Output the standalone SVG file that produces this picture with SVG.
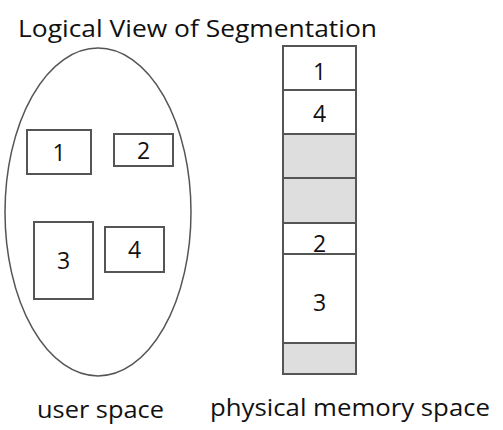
<svg xmlns="http://www.w3.org/2000/svg" width="503" height="430" viewBox="0 0 503 430">
<style>
text{font-family:"Open Sans","Liberation Sans",sans-serif;fill:#111}
.t{font-size:24px}
.l{font-size:24px}
.n{font-size:23px;text-anchor:middle}
.b{fill:#fff;stroke:#555;stroke-width:2}
.g{fill:#dedede;stroke:#555;stroke-width:2}
</style>
<rect width="503" height="430" fill="#fff"/>
<text class="t" x="18" y="37" textLength="359" lengthAdjust="spacingAndGlyphs">Logical View of Segmentation</text>
<g id="userspace">
<ellipse cx="98" cy="212" rx="93" ry="164" fill="#fff" stroke="#555" stroke-width="1.5"/>
</g>
<g id="seg1"><rect class="b" x="27" y="130" width="64" height="44"/><text class="n" x="59" y="161">1</text></g>
<g id="seg2"><rect class="b" x="114" y="134" width="59" height="32"/><text class="n" x="143.5" y="159">2</text></g>
<g id="seg3"><rect class="b" x="34" y="222" width="59" height="77"/><text class="n" x="63.5" y="269">3</text></g>
<g id="seg4"><rect class="b" x="105" y="227" width="59" height="45"/><text class="n" x="134.5" y="258">4</text></g>
<g id="memory">
<rect class="b" x="283" y="46" width="73" height="44"/><text class="n" x="319.5" y="80">1</text>
<rect class="b" x="283" y="90" width="73" height="44"/><text class="n" x="319.5" y="122">4</text>
<rect class="g" x="283" y="134" width="73" height="44"/>
<rect class="g" x="283" y="178" width="73" height="45"/>
<rect class="b" x="283" y="223" width="73" height="31"/>
<rect class="b" x="283" y="254" width="73" height="89"/><text class="n" x="319.5" y="311">3</text>
<rect class="g" x="283" y="343" width="73" height="31"/>
<text class="n" x="319.5" y="252">2</text>
</g>
<text class="l" x="37" y="418" textLength="127" lengthAdjust="spacingAndGlyphs">user space</text>
<text class="l" x="210" y="416" textLength="280" lengthAdjust="spacingAndGlyphs">physical memory space</text>
</svg>
